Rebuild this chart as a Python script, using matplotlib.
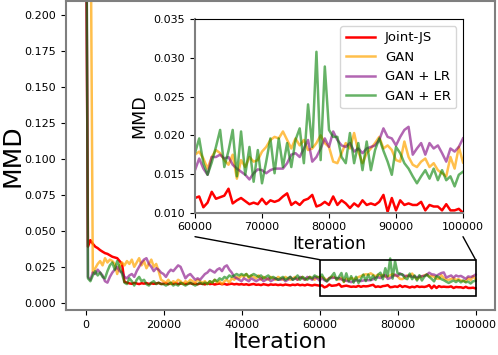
import matplotlib
matplotlib.use("Agg")
import matplotlib.pyplot as plt
import numpy as np
from matplotlib.patches import Rectangle, ConnectionPatch

# iterations: one evaluation every 625 steps
iters = np.arange(161) * 625

joint_js = [
    0.35, 0.039, 0.0435, 0.041, 0.039, 0.038, 0.0366, 0.0355, 0.0345, 0.034, 0.033, 0.032, 0.0315, 0.031, 0.029, 0.027,
    0.0145, 0.0140, 0.0135, 0.0132, 0.0138, 0.0134, 0.0130, 0.0136, 0.0133, 0.0137, 0.0131, 0.0135, 0.0132, 0.0134, 0.0138, 0.0131,
    0.0133, 0.0136, 0.0130, 0.0134, 0.0132, 0.0137, 0.0131, 0.0133, 0.0135, 0.0130, 0.0134, 0.0136, 0.0131, 0.0133, 0.0129, 0.0134,
    0.0132, 0.0128, 0.0135, 0.0130, 0.0133, 0.0127, 0.0131, 0.0134, 0.0129, 0.0132, 0.0126, 0.0130, 0.0133, 0.0128, 0.0131, 0.0127,
    0.0130, 0.0126, 0.0129, 0.0124, 0.0128, 0.0131, 0.0125, 0.0127, 0.0123, 0.0129, 0.0126, 0.0122, 0.0128, 0.0125, 0.0127, 0.0123,
    0.0126, 0.0122, 0.0127, 0.0124, 0.0121, 0.0126, 0.0123, 0.0128, 0.0122, 0.0125, 0.0121, 0.0127, 0.0123, 0.0120, 0.0125, 0.0122,
    0.0119, 0.0121, 0.0107, 0.0113, 0.0127, 0.0118, 0.0120, 0.0122, 0.0131, 0.0112, 0.0116, 0.0119, 0.0115, 0.0111, 0.0113, 0.0111,
    0.0118, 0.0111, 0.0116, 0.0114, 0.0116, 0.0121, 0.0125, 0.0110, 0.0114, 0.0110, 0.0116, 0.0118, 0.0123, 0.0108, 0.0110, 0.0114,
    0.0110, 0.0121, 0.0110, 0.0116, 0.0112, 0.0106, 0.0112, 0.0108, 0.0116, 0.0110, 0.0112, 0.0110, 0.0114, 0.0123, 0.0101, 0.0119,
    0.0103, 0.0116, 0.0110, 0.0112, 0.0110, 0.0110, 0.0114, 0.0103, 0.0110, 0.0108, 0.0108, 0.0103, 0.0111, 0.0103, 0.0103, 0.0105,
    0.0100,
]

gan = [
    0.5, 0.4, 0.3, 0.021, 0.024, 0.027, 0.029, 0.026, 0.031, 0.028, 0.030, 0.029, 0.027, 0.020, 0.026, 0.028,
    0.026, 0.029, 0.027, 0.030, 0.025, 0.028, 0.031, 0.026, 0.029, 0.024, 0.027, 0.030, 0.025, 0.027, 0.022, 0.016,
    0.015, 0.014, 0.016, 0.013, 0.015, 0.014, 0.016, 0.015, 0.013, 0.015, 0.014, 0.016, 0.015, 0.014, 0.016, 0.015,
    0.014, 0.015, 0.013, 0.015, 0.014, 0.016, 0.014, 0.015, 0.013, 0.015, 0.016, 0.014, 0.017, 0.016, 0.018, 0.017,
    0.019, 0.018, 0.020, 0.017, 0.019, 0.018, 0.017, 0.019, 0.016, 0.018, 0.017, 0.016, 0.018, 0.017, 0.016, 0.018,
    0.017, 0.016, 0.018, 0.017, 0.016, 0.017, 0.018, 0.016, 0.017, 0.018, 0.016, 0.017, 0.018, 0.017, 0.016, 0.018,
    0.0175, 0.0179, 0.0170, 0.0157, 0.0172, 0.0181, 0.0177, 0.0168, 0.0162, 0.0175, 0.0144, 0.0168, 0.0159, 0.0172, 0.0166, 0.0168,
    0.0179, 0.0185, 0.0194, 0.0198, 0.0196, 0.0205, 0.0194, 0.0183, 0.0196, 0.0187, 0.0194, 0.0181, 0.0183, 0.0190, 0.0200, 0.0190,
    0.0185, 0.0166, 0.0164, 0.0177, 0.0190, 0.0183, 0.0203, 0.0179, 0.0164, 0.0177, 0.0183, 0.0190, 0.0198, 0.0183, 0.0187, 0.0181,
    0.0168, 0.0166, 0.0192, 0.0172, 0.0162, 0.0159, 0.0166, 0.0170, 0.0159, 0.0164, 0.0155, 0.0151, 0.0147, 0.0172, 0.0157, 0.0185,
    0.0165,
]

gan_lr = [
    0.4, 0.018, 0.016, 0.021, 0.020, 0.023, 0.021, 0.019, 0.015, 0.014, 0.018, 0.021, 0.023, 0.025, 0.022, 0.021,
    0.018, 0.017, 0.019, 0.020, 0.018, 0.022, 0.025, 0.028, 0.030, 0.031, 0.027, 0.025, 0.022, 0.024, 0.023, 0.021,
    0.020, 0.018, 0.021, 0.023, 0.022, 0.024, 0.026, 0.025, 0.021, 0.017, 0.019, 0.020, 0.018, 0.016, 0.017, 0.016,
    0.018, 0.020, 0.021, 0.023, 0.022, 0.021, 0.023, 0.024, 0.022, 0.025, 0.026, 0.023, 0.021, 0.018, 0.017, 0.016,
    0.015, 0.017, 0.016, 0.015, 0.017, 0.016, 0.015, 0.016, 0.017, 0.015, 0.016, 0.017, 0.015, 0.016, 0.017, 0.016,
    0.016, 0.017, 0.015, 0.016, 0.018, 0.016, 0.017, 0.016, 0.018, 0.017, 0.016, 0.018, 0.017, 0.016, 0.018, 0.017,
    0.0155, 0.0170, 0.0157, 0.0149, 0.0172, 0.0172, 0.0175, 0.0170, 0.0172, 0.0162, 0.0157, 0.0153, 0.0149, 0.0143, 0.0151, 0.0156,
    0.0155, 0.0151, 0.0155, 0.0157, 0.0157, 0.0157, 0.0164, 0.0175, 0.0177, 0.0172, 0.0183, 0.0194, 0.0166, 0.0172, 0.0183, 0.0196,
    0.0185, 0.0205, 0.0194, 0.0187, 0.0185, 0.0190, 0.0179, 0.0183, 0.0177, 0.0183, 0.0185, 0.0187, 0.0194, 0.0209, 0.0198, 0.0196,
    0.0187, 0.0198, 0.0207, 0.0211, 0.0175, 0.0183, 0.0190, 0.0175, 0.0190, 0.0183, 0.0187, 0.0177, 0.0166, 0.0183, 0.0179, 0.0185,
    0.0196,
]

gan_er = [
    0.45, 0.017, 0.015, 0.019, 0.022, 0.019, 0.021, 0.018, 0.017, 0.022, 0.026, 0.028, 0.023, 0.029, 0.025, 0.020,
    0.014, 0.013, 0.017, 0.015, 0.012, 0.016, 0.018, 0.015, 0.016, 0.013, 0.012, 0.014, 0.015, 0.013, 0.014, 0.013,
    0.013, 0.012, 0.013, 0.014, 0.012, 0.013, 0.012, 0.014, 0.013, 0.012, 0.013, 0.014, 0.013, 0.012, 0.013, 0.014,
    0.013, 0.014, 0.013, 0.015, 0.014, 0.016, 0.015, 0.017, 0.016, 0.018, 0.017, 0.019, 0.018, 0.019, 0.020, 0.019,
    0.020, 0.019, 0.020, 0.018, 0.019, 0.020, 0.019, 0.018, 0.019, 0.017, 0.018, 0.019, 0.017, 0.018, 0.017, 0.016,
    0.017, 0.018, 0.016, 0.017, 0.018, 0.016, 0.017, 0.019, 0.016, 0.018, 0.017, 0.016, 0.018, 0.017, 0.019, 0.018,
    0.0177, 0.0196, 0.0164, 0.0149, 0.0165, 0.0185, 0.0207, 0.0159, 0.0180, 0.0207, 0.0147, 0.0205, 0.0149, 0.0185, 0.0140, 0.0181,
    0.0138, 0.0166, 0.0196, 0.0151, 0.0196, 0.0159, 0.0190, 0.0159, 0.0194, 0.0209, 0.0164, 0.0240, 0.0185, 0.0308, 0.0168, 0.0289,
    0.0207, 0.0198, 0.0198, 0.0172, 0.0164, 0.0203, 0.0164, 0.0190, 0.0155, 0.0192, 0.0155, 0.0181, 0.0196, 0.0180, 0.0166, 0.0149,
    0.0185, 0.0177, 0.0164, 0.0157, 0.0147, 0.0138, 0.0147, 0.0155, 0.0144, 0.0157, 0.0142, 0.0155, 0.0142, 0.0147, 0.0134, 0.0149,
    0.0153,
]

series = [
    ("Joint-JS", joint_js, "red", 1.0),
    ("GAN", gan, "orange", 0.7),
    ("GAN + LR", gan_lr, "purple", 0.6),
    ("GAN + ER", gan_er, "green", 0.6),
]

fig = plt.figure(figsize=(4.98, 3.55), dpi=100)
ax = fig.add_axes([66/498, 45/355, 429/498, 309.5/355])
axins = fig.add_axes([195/498, 142.3/355, 268/498, 193.4/355])

for name, vals, col, a in series:
    ax.plot(iters, vals, color=col, alpha=a, lw=1.8, label=name)
    axins.plot(iters, vals, color=col, alpha=a, lw=1.8, label=name)

ax.set_xlim(-5000, 105000)
ax.set_ylim(-0.005, 0.21)
ax.set_xticks(np.arange(0, 100001, 20000))
ax.set_yticks(np.arange(0, 0.2001, 0.025))
ax.yaxis.set_major_formatter(plt.FormatStrFormatter("%.3f"))
ax.tick_params(labelsize=8)
ax.set_xlabel("Iteration", fontsize=16, labelpad=2)
ax.set_ylabel("MMD", fontsize=18, labelpad=0)
for s in ax.spines.values():
    s.set_color("#7f7f7f")
    s.set_linewidth(1.5)

axins.set_xlim(60000, 100000)
axins.set_ylim(0.010, 0.035)
axins.set_xticks(np.arange(60000, 100001, 10000))
axins.set_yticks(np.arange(0.010, 0.0351, 0.005))
axins.yaxis.set_major_formatter(plt.FormatStrFormatter("%.3f"))
axins.tick_params(labelsize=8)
axins.set_xlabel("Iteration", fontsize=12.5, labelpad=2)
axins.set_ylabel("MMD", fontsize=12.5)
for side in ["left", "bottom"]:
    axins.spines[side].set_color("#7f7f7f")
    axins.spines[side].set_linewidth(1.5)
axins.legend(loc="upper right", fontsize=9.5, handlelength=2.2)

# zoom box and connectors
ax.add_patch(Rectangle((60000, 0.005), 40000, 0.025, fill=False, ec="black", lw=1.2, zorder=5))
for fx, dx in [(0, 60000), (1, 100000)]:
    con = ConnectionPatch(xyA=(fx, -0.124), coordsA=axins.transAxes,
                          xyB=(dx, 0.030), coordsB=ax.transData,
                          color="black", lw=1)
    fig.add_artist(con)

fig.savefig("out.png", dpi=100)
